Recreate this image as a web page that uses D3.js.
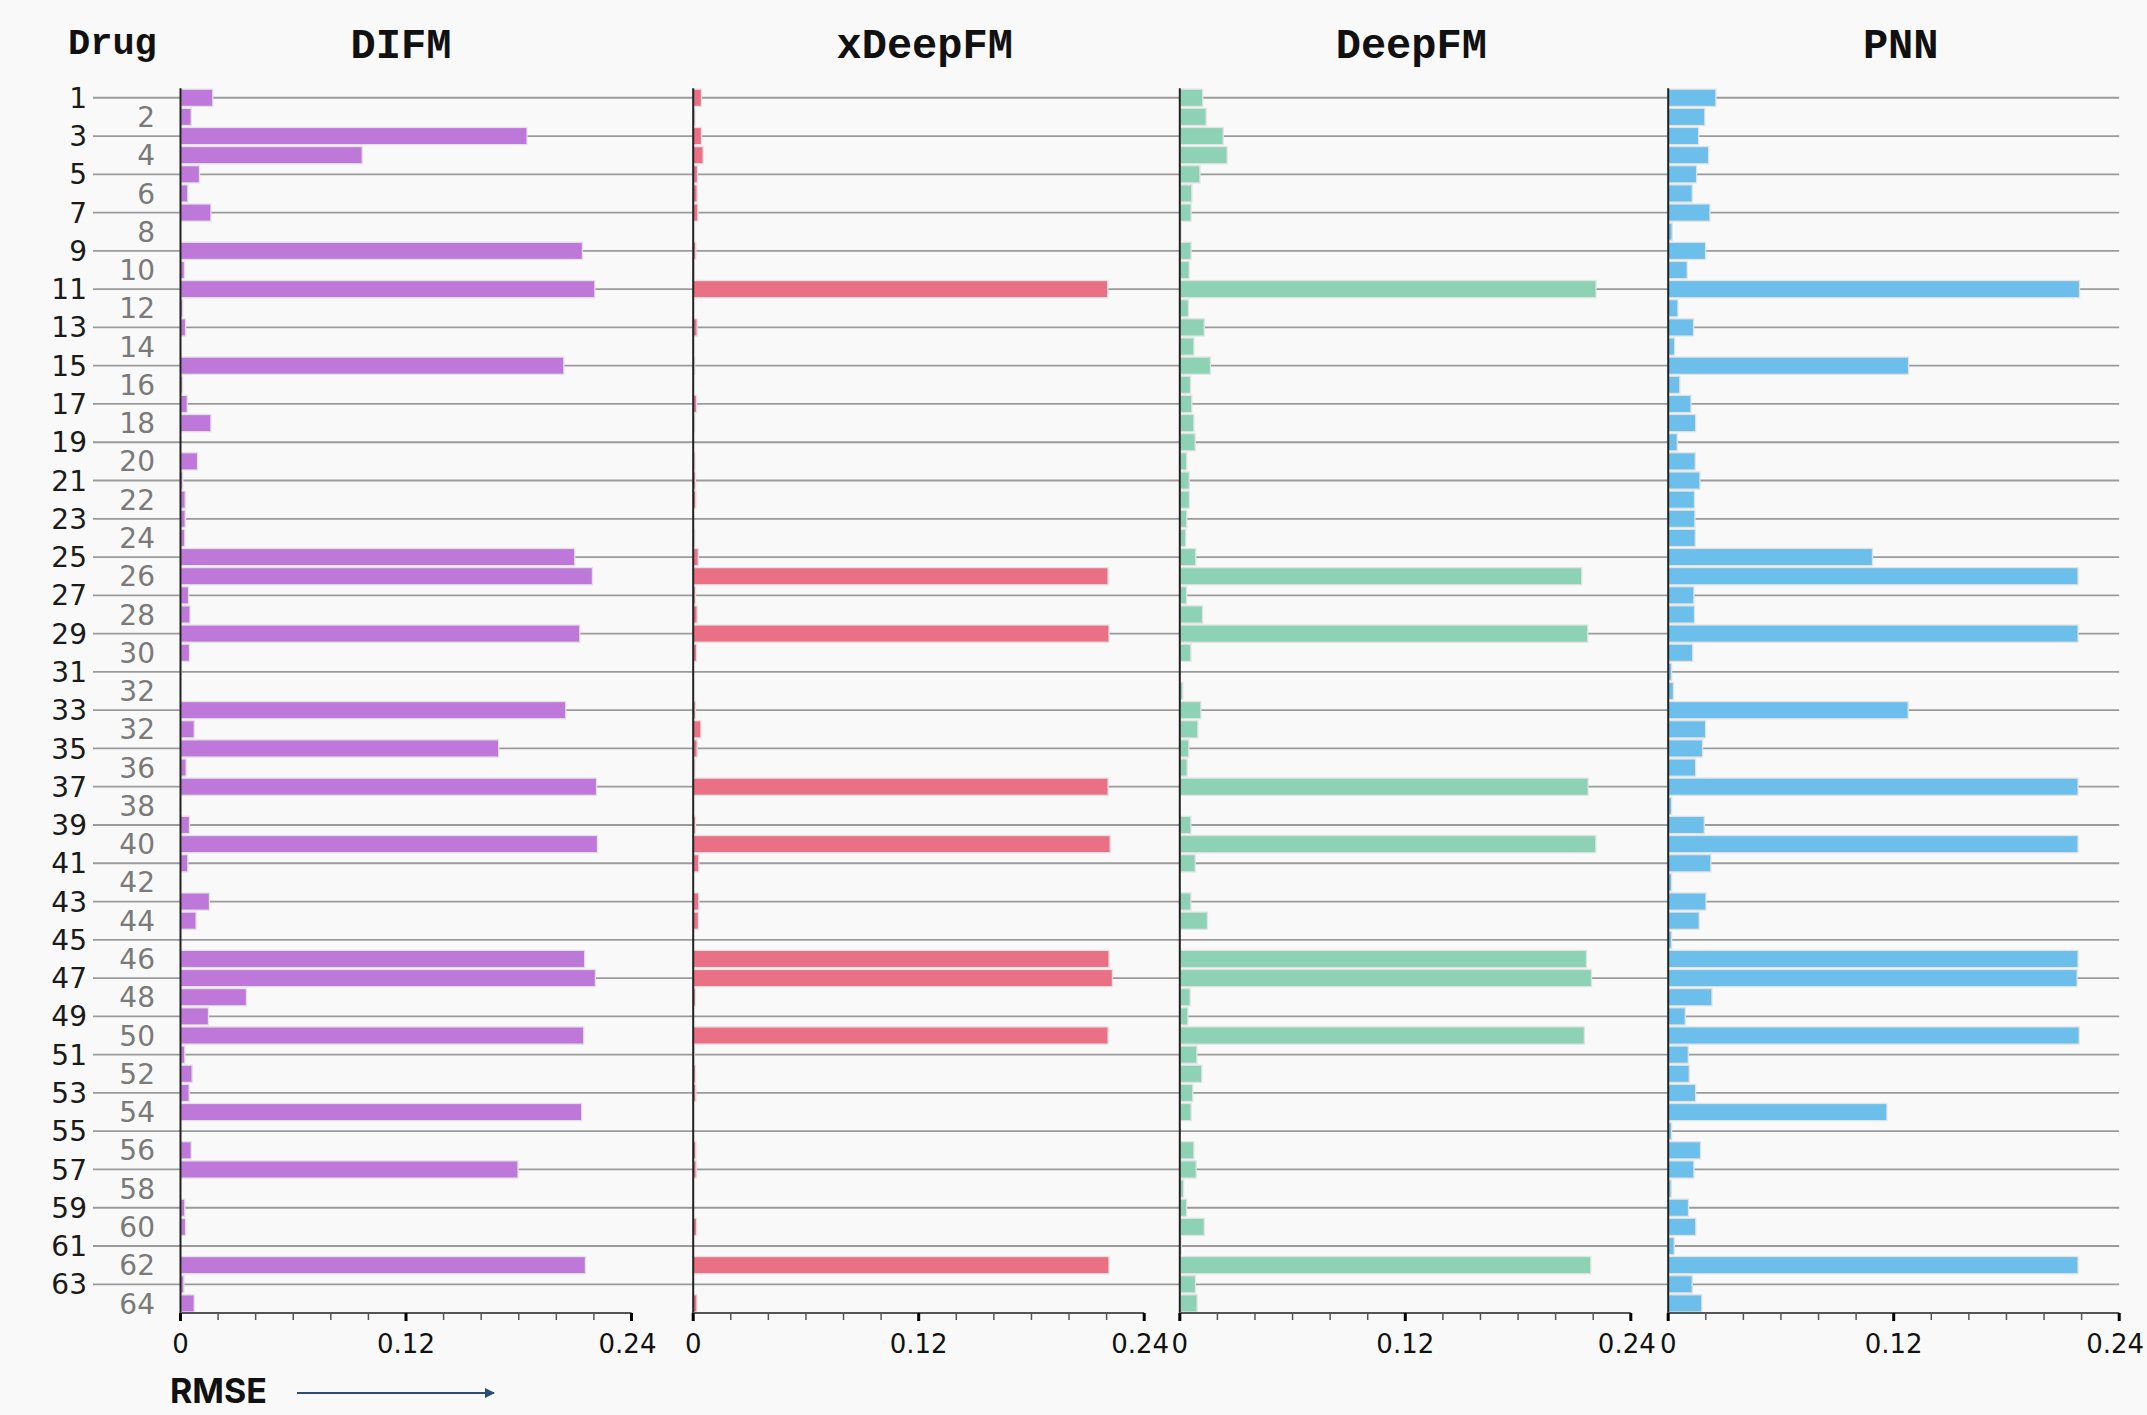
<!DOCTYPE html>
<html>
<head>
<meta charset="utf-8">
<script src="https://cdn.jsdelivr.net/npm/d3@7"></script>
<style>
  html, body { margin: 0; padding: 0; background: #f9f9f9; }
  svg { display: block; }
</style>
</head>
<body>
<svg id="chart" width="2147" height="1415"></svg>
<script>
// ---------- data ----------
const drugLabels = ["1","2","3","4","5","6","7","8","9","10","11","12","13","14","15","16",
  "17","18","19","20","21","22","23","24","25","26","27","28","29","30","31","32",
  "33","32","35","36","37","38","39","40","41","42","43","44","45","46","47","48",
  "49","50","51","52","53","54","55","56","57","58","59","60","61","62","63","64"];

const models = ["DIFM", "xDeepFM", "DeepFM", "PNN"];

const difm = [0.0172,0.0057,0.1844,0.0967,0.0101,0.0039,0.0162,0,0.2139,0.0021,
  0.2205,0.0012,0.0027,0,0.2040,0.0011,0.0036,0.0162,0,0.0091,
  0.0012,0.0025,0.0025,0.0023,0.2098,0.2192,0.0043,0.0051,0.2125,0.0048,
  0.0003,0,0.2050,0.0073,0.1693,0.0030,0.2214,0,0.0048,0.2219,
  0.0039,0,0.0154,0.0083,0,0.2151,0.2208,0.0351,0.0149,0.2146,
  0.0023,0.0062,0.0046,0.2135,0,0.0057,0.1796,0,0.0023,0.0027,
  0,0.2155,0.0018,0.0073];

const xdeepfm = [0.0044,0.0009,0.0044,0.0053,0.0023,0.0021,0.0025,0,0.0014,0.0005,
  0.2206,0,0.0021,0,0.0008,0,0.0018,0.0008,0,0.0009,
  0.0012,0.0014,0,0.0008,0.0027,0.2208,0.0012,0.0021,0.2213,0.0018,
  0,0,0.0012,0.0041,0.0021,0.0009,0.2208,0,0.0012,0.2219,
  0.0030,0,0.0030,0.0028,0,0.2213,0.2231,0.0012,0,0.2208,
  0.0007,0.0012,0.0014,0,0,0.0014,0.0016,0,0,0.0018,
  0,0.2213,0,0.0020];

const deepfm = [0.0122,0.0140,0.0231,0.0252,0.0107,0.0064,0.0060,0.0007,0.0060,0.0050,
  0.2215,0.0046,0.0130,0.0075,0.0163,0.0057,0.0064,0.0075,0.0082,0.0037,
  0.0050,0.0051,0.0037,0.0032,0.0085,0.2139,0.0036,0.0121,0.2171,0.0059,
  0,0.0016,0.0112,0.0096,0.0048,0.0039,0.2173,0,0.0059,0.2214,
  0.0082,0,0.0059,0.0147,0,0.2164,0.2191,0.0055,0.0043,0.2153,
  0.0091,0.0117,0.0069,0.0060,0,0.0075,0.0087,0.0020,0.0036,0.0130,
  0.0007,0.2187,0.0083,0.0092];

const pnn = [0.0254,0.0195,0.0162,0.0215,0.0151,0.0128,0.0222,0.0021,0.0199,0.0101,
  0.2189,0.0052,0.0135,0.0034,0.1279,0.0062,0.0121,0.0146,0.0048,0.0144,
  0.0169,0.0140,0.0142,0.0144,0.1087,0.2181,0.0137,0.0140,0.2181,0.0130,
  0.0018,0.0028,0.1277,0.0199,0.0183,0.0146,0.2181,0.0018,0.0192,0.2181,
  0.0227,0.0018,0.0201,0.0165,0.0018,0.2181,0.2176,0.0233,0.0091,0.2187,
  0.0107,0.0112,0.0146,0.1164,0.0018,0.0172,0.0137,0.0016,0.0108,0.0147,
  0.0032,0.2181,0.0128,0.0179];

const majorTicks = [0, 0.12, 0.24];
const xDomain = [0, 0.24];
const axisTitle = "RMSE";
const rowTitle = "Drug";

// ---------- layout / style ----------
const colors = ["#be78da", "#ea7086", "#8ed2b6", "#6cbeeb"];
const seriesValues = [difm, xdeepfm, deepfm, pnn];
const panelLeft = [180.5, 693.2, 1179.8, 1668.2];
const panelWidth = 451;
const titleShift = [-5, 6, 6, 7];
const yTop = 88.2, yBottom = 1313;

const svg = d3.select("#chart");
svg.append("rect").attr("width", 2147).attr("height", 1415).attr("fill", "#f9f9f9");

const idx = d3.range(drugLabels.length);
const y = d3.scaleBand().domain(idx).range([yTop, yBottom]).paddingInner(0.1).paddingOuter(0.05);
const yc = i => y(i) + y.bandwidth() / 2;

const monoFont = "'Liberation Mono', 'DejaVu Sans Mono', monospace";
const tickFont = "'DejaVu Sans', sans-serif";

// gridlines (odd rows), spanning all panels
svg.append("g").selectAll("line")
  .data(idx.filter(i => i % 2 === 0))
  .join("line")
  .attr("x1", 93).attr("x2", panelLeft[3] + panelWidth)
  .attr("y1", d => yc(d)).attr("y2", d => yc(d))
  .attr("stroke", "#9b9b9b").attr("stroke-width", 1.8);

// row labels
svg.append("g").selectAll("text")
  .data(idx)
  .join("text")
  .attr("x", d => d % 2 === 0 ? 87 : 155)
  .attr("y", d => yc(d))
  .attr("dy", "0.36em")
  .attr("text-anchor", "end")
  .attr("font-family", tickFont)
  .attr("font-size", 28)
  .attr("fill", d => d % 2 === 0 ? "#1a1a1a" : "#7a7a7a")
  .text(d => drugLabels[d]);

svg.append("text")
  .attr("x", 68).attr("y", 54)
  .attr("font-family", monoFont).attr("font-weight", "bold")
  .attr("font-size", 37).attr("fill", "#111")
  .text(rowTitle);

models.forEach((m, k) => {
  const x = d3.scaleLinear().domain(xDomain).range([panelLeft[k], panelLeft[k] + panelWidth]);
  const g = svg.append("g");

  // bars
  g.selectAll("rect.bar")
    .data(idx)
    .join("rect")
    .attr("class", "bar")
    .attr("x", x(0))
    .attr("y", d => y(d))
    .attr("width", d => x(seriesValues[k][d]) - x(0))
    .attr("height", y.bandwidth())
    .attr("fill", colors[k])
    .attr("stroke", "#e2e2e2")
    .attr("stroke-width", 1.3);

  // vertical axis line
  g.append("line")
    .attr("x1", x(0)).attr("x2", x(0))
    .attr("y1", yTop).attr("y2", yBottom)
    .attr("stroke", "#222").attr("stroke-width", 2);

  // bottom axis
  const minor = d3.range(0, 13).map(i => i * 0.02);
  g.append("line")
    .attr("x1", x(0)).attr("x2", x(0.24))
    .attr("y1", yBottom).attr("y2", yBottom)
    .attr("stroke", "#555").attr("stroke-width", 2);
  g.selectAll("line.minor")
    .data(minor.filter(v => !majorTicks.some(t => Math.abs(t - v) < 1e-9)))
    .join("line").attr("class", "minor")
    .attr("x1", d => x(d)).attr("x2", d => x(d))
    .attr("y1", yBottom).attr("y2", yBottom + 7)
    .attr("stroke", "#555").attr("stroke-width", 1.5);
  g.selectAll("line.major")
    .data(majorTicks)
    .join("line").attr("class", "major")
    .attr("x1", d => x(d)).attr("x2", d => x(d))
    .attr("y1", yBottom).attr("y2", yBottom + 8)
    .attr("stroke", "#000").attr("stroke-width", 3);
  g.selectAll("text.tick")
    .data(majorTicks)
    .join("text").attr("class", "tick")
    .attr("x", d => x(d) - (d === 0.24 ? 4 : 0))
    .attr("y", 1353)
    .attr("text-anchor", "middle")
    .attr("font-family", tickFont).attr("font-size", 26)
    .attr("fill", "#111")
    .text(d => d === 0 ? "0" : d3.format(".2f")(d));

  // title
  g.append("text")
    .attr("x", (x(0) + x(0.24)) / 2 + titleShift[k])
    .attr("y", 58)
    .attr("text-anchor", "middle")
    .attr("font-family", monoFont).attr("font-weight", "bold")
    .attr("font-size", 42).attr("fill", "#111")
    .text(m);
});

// RMSE label with arrow
svg.append("defs").append("marker")
  .attr("id", "arrow").attr("viewBox", "0 0 10 10")
  .attr("refX", 9).attr("refY", 5)
  .attr("markerWidth", 5).attr("markerHeight", 5)
  .attr("orient", "auto")
  .append("path").attr("d", "M0,0 L10,5 L0,10 Z").attr("fill", "#2b4d7b");

svg.append("text")
  .attr("x", 170).attr("y", 1403)
  .attr("font-family", "Inter, 'Liberation Sans', sans-serif").attr("font-weight", "bold")
  .attr("font-size", 34).attr("fill", "#111")
  .text(axisTitle);

svg.append("line")
  .attr("x1", 297).attr("x2", 494)
  .attr("y1", 1393).attr("y2", 1393)
  .attr("stroke", "#2b4d7b").attr("stroke-width", 2)
  .attr("marker-end", "url(#arrow)");
</script>
</body>
</html>
